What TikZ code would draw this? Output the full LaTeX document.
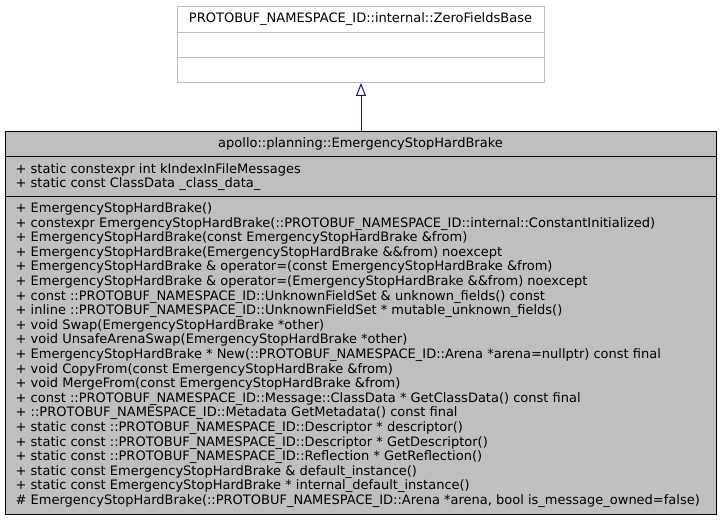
\documentclass[tikz,border=0pt]{standalone}
\usepackage{fontspec}
\setmainfont{DejaVu Sans}
\usetikzlibrary{arrows.meta}
\definecolor{clsgray}{HTML}{BFBFBF}
\definecolor{edgeblue}{HTML}{191970}
\begin{document}
\begin{tikzpicture}[x=1pt,y=-1pt,
  comp/.style={draw, rectangle, inner sep=0pt, anchor=north west, line width=1pt},
  basecomp/.style={comp, draw=clsgray, fill=white, minimum width=367pt},
  clscomp/.style={comp, draw=black, fill=clsgray, minimum width=711pt},
  txt/.style={inner sep=0pt, font=\fontsize{13}{14.6}\selectfont},
  inherit/.style={draw=edgeblue, line width=1pt, -{Triangle[open,length=13pt,width=10pt]}}
]
\useasboundingbox (0,0) rectangle (721,521);
% base class
\node[basecomp, minimum height=26pt] (b1) at (177,6) {};
\node[basecomp, minimum height=25pt] (b2) at (177,32) {};
\node[basecomp, minimum height=25pt] (b3) at (177,57) {};
\node[txt, anchor=base] (bt) at (360.5,23) {PROTOBUF\_NAMESPACE\_ID::internal::ZeroFieldsBase};
% derived class
\node[clscomp, minimum height=25.5pt] (c1) at (5,131) {};
\node[clscomp, minimum height=40pt] (c2) at (5,156.5) {};
\node[clscomp, minimum height=317.5pt] (c3) at (5,196.5) {};
\node[txt, anchor=base] (ct) at (360.5,148) {apollo::planning::EmergencyStopHardBrake};
\foreach \t [count=\i from 0] in {
  {+ static constexpr int kIndexInFileMessages},
  {+ static const ClassData \_class\_data\_}}
  \node[txt, anchor=base west] (a\i) at (15.5,173.3+14.6*\i) {\t};
\foreach \t [count=\i from 0] in {
  {+ EmergencyStopHardBrake()},
  {+ constexpr EmergencyStopHardBrake(::PROTOBUF\_NAMESPACE\_ID::internal::ConstantInitialized)},
  {+ EmergencyStopHardBrake(const EmergencyStopHardBrake \&from)},
  {+ EmergencyStopHardBrake(EmergencyStopHardBrake \&\&from) noexcept},
  {+ EmergencyStopHardBrake \& operator=(const EmergencyStopHardBrake \&from)},
  {+ EmergencyStopHardBrake \& operator=(EmergencyStopHardBrake \&\&from) noexcept},
  {+ const ::PROTOBUF\_NAMESPACE\_ID::UnknownFieldSet \& unknown\_fields() const},
  {+ inline ::PROTOBUF\_NAMESPACE\_ID::UnknownFieldSet * mutable\_unknown\_fields()},
  {+ void Swap(EmergencyStopHardBrake *other)},
  {+ void UnsafeArenaSwap(EmergencyStopHardBrake *other)},
  {+ EmergencyStopHardBrake * New(::PROTOBUF\_NAMESPACE\_ID::Arena *arena=nullptr) const final},
  {+ void CopyFrom(const EmergencyStopHardBrake \&from)},
  {+ void MergeFrom(const EmergencyStopHardBrake \&from)},
  {+ const ::PROTOBUF\_NAMESPACE\_ID::Message::ClassData * GetClassData() const final},
  {+ ::PROTOBUF\_NAMESPACE\_ID::Metadata GetMetadata() const final},
  {+ static const ::PROTOBUF\_NAMESPACE\_ID::Descriptor * descriptor()},
  {+ static const ::PROTOBUF\_NAMESPACE\_ID::Descriptor * GetDescriptor()},
  {+ static const ::PROTOBUF\_NAMESPACE\_ID::Reflection * GetReflection()},
  {+ static const EmergencyStopHardBrake \& default\_instance()},
  {+ static const EmergencyStopHardBrake * internal\_default\_instance()},
  {\# EmergencyStopHardBrake(::PROTOBUF\_NAMESPACE\_ID::Arena *arena, bool is\_message\_owned=false)}}
  \node[txt, anchor=base west] (m\i) at (15.5,212.5+14.6*\i) {\t};
% inheritance
\draw[inherit] (c1.north) -- (b3.south);
\end{tikzpicture}
\end{document}
